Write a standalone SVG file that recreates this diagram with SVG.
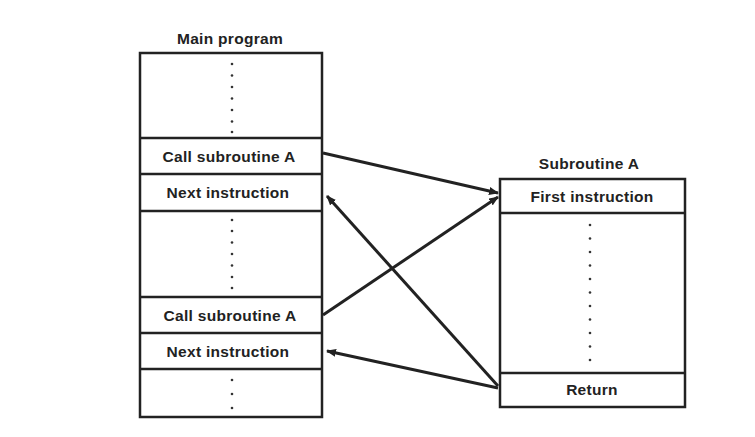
<svg xmlns="http://www.w3.org/2000/svg" width="755" height="437" viewBox="0 0 755 437">
<defs>
<style>
.box{fill:#fff;stroke:#222;stroke-width:2.5}
.div{stroke:#222;stroke-width:2.5}
.t{font-family:"Liberation Sans",Arial,sans-serif;font-size:15.5px;font-weight:bold;fill:#222;text-anchor:middle;letter-spacing:0.3px}
.dot{fill:#333}
.con{stroke:#222;stroke-width:3;fill:none;marker-end:url(#ah)}
</style>
<marker id="ah" markerWidth="10" markerHeight="8" refX="9" refY="4" orient="auto" markerUnits="userSpaceOnUse" viewBox="0 0 10 8">
<path d="M0,0 L10,4 L0,8 Z" fill="#222"/>
</marker>
</defs>
<rect width="755" height="437" fill="#fff"/>
<g id="main">
<text class="t" x="230" y="44">Main program</text>
<rect class="box" x="140" y="53" width="182" height="364"/>
<line class="div" x1="140" y1="138" x2="322" y2="138"/>
<line class="div" x1="140" y1="174" x2="322" y2="174"/>
<line class="div" x1="140" y1="211" x2="322" y2="211"/>
<line class="div" x1="140" y1="297" x2="322" y2="297"/>
<line class="div" x1="140" y1="333" x2="322" y2="333"/>
<line class="div" x1="140" y1="369" x2="322" y2="369"/>
<text class="t" x="229" y="162">Call subroutine A</text>
<text class="t" x="228" y="198">Next instruction</text>
<text class="t" x="230" y="321">Call subroutine A</text>
<text class="t" x="228" y="357">Next instruction</text>
<g class="dot">
<circle cx="232" cy="64" r="1.3"/><circle cx="232" cy="75.5" r="1.3"/><circle cx="232" cy="87" r="1.3"/><circle cx="232" cy="98.5" r="1.3"/><circle cx="232" cy="110" r="1.3"/><circle cx="232" cy="121.5" r="1.3"/><circle cx="232" cy="132" r="1.3"/>
<circle cx="232" cy="220" r="1.3"/><circle cx="232" cy="231" r="1.3"/><circle cx="232" cy="242.5" r="1.3"/><circle cx="232" cy="254" r="1.3"/><circle cx="232" cy="265.5" r="1.3"/><circle cx="232" cy="277" r="1.3"/><circle cx="232" cy="288" r="1.3"/>
<circle cx="232" cy="380" r="1.3"/><circle cx="232" cy="394" r="1.3"/><circle cx="232" cy="408" r="1.3"/>
</g>
</g>
<g id="sub">
<text class="t" x="589" y="169">Subroutine A</text>
<rect class="box" x="500" y="179" width="185" height="228"/>
<line class="div" x1="500" y1="213" x2="685" y2="213"/>
<line class="div" x1="500" y1="373" x2="685" y2="373"/>
<text class="t" x="592" y="202">First instruction</text>
<text class="t" x="592" y="395">Return</text>
<g class="dot">
<circle cx="590" cy="225" r="1.3"/><circle cx="590" cy="238.5" r="1.3"/><circle cx="590" cy="252" r="1.3"/><circle cx="590" cy="265.5" r="1.3"/><circle cx="590" cy="279" r="1.3"/><circle cx="590" cy="292.5" r="1.3"/><circle cx="590" cy="306" r="1.3"/><circle cx="590" cy="319.5" r="1.3"/><circle cx="590" cy="333" r="1.3"/><circle cx="590" cy="346.5" r="1.3"/><circle cx="590" cy="360" r="1.3"/>
</g>
</g>
<g id="connectors">
<line class="con" x1="323" y1="153" x2="498" y2="193"/>
<line class="con" x1="323" y1="315" x2="498" y2="197"/>
<line class="con" x1="498" y1="386" x2="327" y2="196"/>
<line class="con" x1="498" y1="388" x2="327" y2="351"/>
</g>
</svg>
